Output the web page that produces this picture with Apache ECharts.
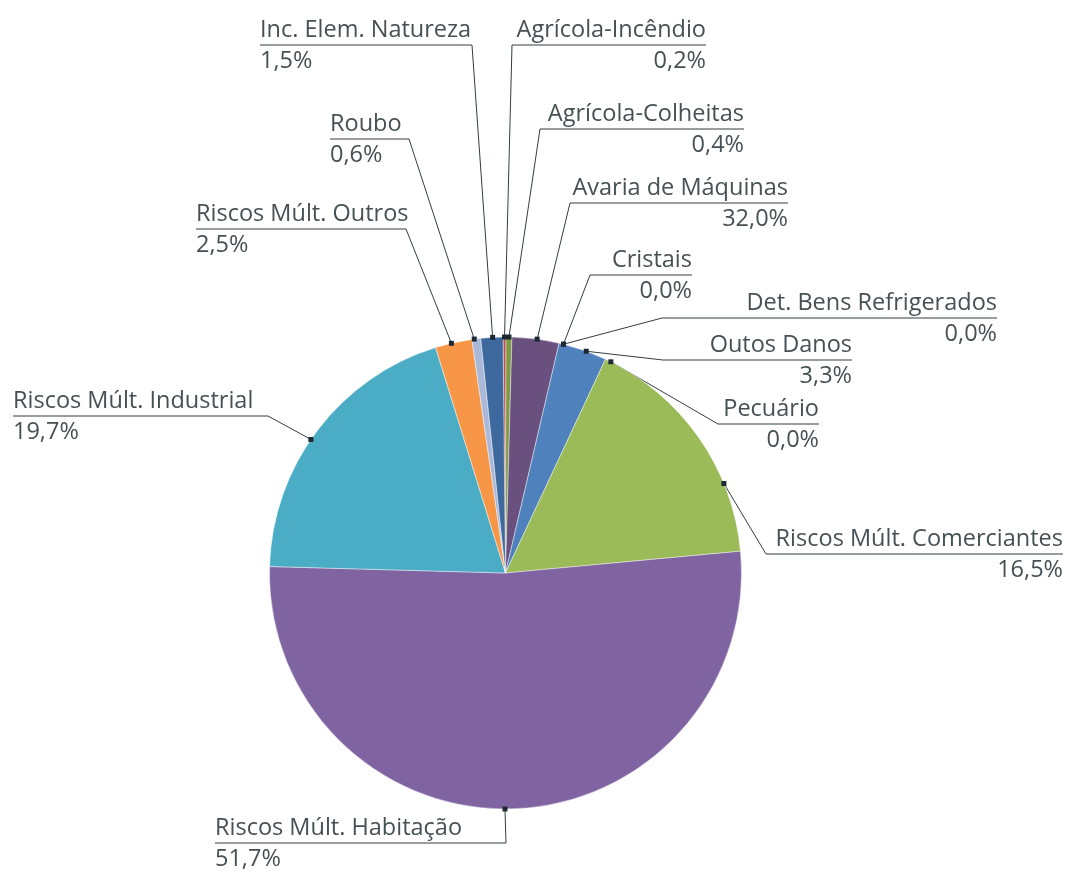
<!DOCTYPE html>
<html>
<head>
<meta charset="utf-8" />
<title>Pie</title>
<script src="https://cdn.jsdelivr.net/npm/echarts@6/dist/echarts.min.js"></script>
<style>html,body{margin:0;padding:0;background:#fff}</style>
</head>
<body>
<div id="chart" style="width:1066px;height:873px"></div>
<script>
var names = ["Agrícola-Incêndio", "Agrícola-Colheitas", "Avaria de Máquinas", "Cristais",
  "Det. Bens Refrigerados", "Outos Danos", "Pecuário", "Riscos Múlt. Comerciantes",
  "Riscos Múlt. Habitação", "Riscos Múlt. Industrial", "Riscos Múlt. Outros", "Roubo",
  "Inc. Elem. Natureza"];
// slice sizes as drawn (the label for Avaria reads 32,0% in the source)
var values = [0.2, 0.4, 3.2, 0.0, 0.0, 3.3, 0.0, 16.5, 51.7, 19.7, 2.5, 0.6, 1.5];
var pctLabels = ["0,2%", "0,4%", "32,0%", "0,0%", "0,0%", "3,3%", "0,0%", "16,5%",
  "51,7%", "19,7%", "2,5%", "0,6%", "1,5%"];
var colors = ["#c0504d", "#7d9a46", "#69507f", "#4f81bd", "#4f81bd", "#4f81bd", "#9bbb59",
  "#9bbb59", "#8064a2", "#4bacc6", "#f79646", "#aab9d9", "#3e699e"];

// label placement: [text outer x, underline y, leader join x, side]
var labelPos = [
  [706, 45, 512, "right"],
  [744, 129, 540, "right"],
  [788, 203, 570, "right"],
  [692, 275, 590, "right"],
  [997, 318, 662, "right"],
  [852, 360, 663, "right"],
  [819, 424, 718, "right"],
  [1063, 554, 766, "right"],
  [215, 843, 506, "left"],
  [13, 416, 268, "left"],
  [196, 229, 406, "left"],
  [330, 139, 409, "left"],
  [260, 45, 472, "left"]
];
// where the leader leaves each slice, in percent points past the slice start
var leaderOffset = [0.1, 0.2, 1.7, 0.3, 0.3, 1.9, 0.4, 11.8, 26.4, 9.1, 1.1, 0.16, 0.8];

var cx = 505.5, cy = 573, R = 236, startAngle = 90.6;
var textColor = "#465055";
var lineColor = "#333d43";
var font = "'Open Sans', sans-serif";
var fs = 23.5;

var total = 0;
values.forEach(function (v) { total += v; });
var cum = [];
var acc = 0;
values.forEach(function (v) { cum.push(acc); acc += v; });

function dotPoint(i) {
  var a = (90 - startAngle) + (cum[i] + leaderOffset[i]) / total * 360;
  var rad = a * Math.PI / 180;
  return [cx + R * Math.sin(rad), cy - R * Math.cos(rad)];
}

var data = names.map(function (n, i) {
  return {
    name: n,
    value: values[i],
    itemStyle: { color: colors[i], borderWidth: values[i] > 0 ? 0.6 : 0 }
  };
});

var dots = names.map(function (n, i) {
  var p = dotPoint(i);
  return {
    type: "rect",
    shape: { x: p[0] - 2.5, y: p[1] - 2.5, width: 5, height: 5 },
    style: { fill: "#1d2a33" },
    z: 100
  };
});

var chart = echarts.init(document.getElementById("chart"));
chart.setOption({
  animation: false,
  graphic: dots,
  series: [{
    type: "pie",
    center: [cx, cy],
    radius: R,
    startAngle: startAngle,
    clockwise: true,
    avoidLabelOverlap: false,
    silent: true,
    itemStyle: { borderColor: "rgba(255,255,255,0.7)" },
    label: {
      show: true,
      position: "outside",
      formatter: function (p) {
        var s = labelPos[p.dataIndex][3] === "right" ? "R" : "L";
        return "{n" + s + "|" + p.name + "}\n{p" + s + "|" + pctLabels[p.dataIndex] + "}";
      },
      rich: {
        nR: { fontFamily: font, fontSize: fs, lineHeight: 31, color: textColor, align: "right" },
        pR: { fontFamily: font, fontSize: fs, lineHeight: 31, color: textColor, align: "right" },
        nL: { fontFamily: font, fontSize: fs, lineHeight: 31, color: textColor, align: "left" },
        pL: { fontFamily: font, fontSize: fs, lineHeight: 31, color: textColor, align: "left" }
      }
    },
    labelLine: {
      show: true,
      smooth: false,
      lineStyle: { color: lineColor, width: 1 }
    },
    labelLayout: function (params) {
      var i = params.dataIndex;
      var lp = labelPos[i];
      return {
        x: lp[0],
        y: lp[1] + 1,
        align: lp[3],
        verticalAlign: "middle",
        labelLinePoints: [dotPoint(i), [lp[2], lp[1]], [lp[0], lp[1]]]
      };
    },
    data: data
  }]
});
</script>
</body>
</html>
